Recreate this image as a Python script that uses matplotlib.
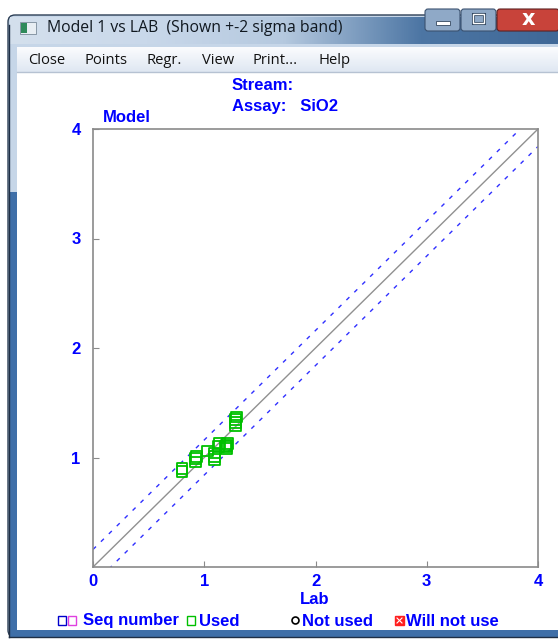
import numpy as np
import matplotlib.pyplot as plt
from matplotlib.patches import Rectangle, FancyBboxPatch
from matplotlib.colors import LinearSegmentedColormap

# Lab vs model assay values (SiO2)
lab = [0.80, 0.80, 0.92, 0.92, 0.93, 1.03, 1.09, 1.09, 1.09, 1.13, 1.14,
       1.19, 1.20, 1.20, 1.21, 1.28, 1.28, 1.28, 1.29]
model = [0.87, 0.90, 0.96, 0.99, 1.01, 1.06, 0.98, 1.01, 1.04, 1.10, 1.13,
         1.10, 1.08, 1.11, 1.13, 1.29, 1.32, 1.35, 1.37]
band = 0.16          # +-2 sigma
ticks = [0, 1, 2, 3, 4]
menu_items = ['Close', 'Points', 'Regr.', 'View', 'Print...', 'Help']
menu_x = [28, 85, 147, 202, 253, 318]

W, H = 558, 640
BLUE = '#0000ff'
FS = 12
fig = plt.figure(figsize=(W / 100, H / 100), dpi=100)

# --- window frame, drawn in pixel coords ---
bg = fig.add_axes([0, 0, 1, 1])
bg.set_xlim(0, W)
bg.set_ylim(H, 0)
bg.axis('off')

frame_cmap = LinearSegmentedColormap.from_list(
    'frame', ['#d4e0ed', '#c9d8ea', '#b5c9df', '#4d76a4', '#3f6897'])
grad = np.tile(np.linspace(0, 1, 256), (2, 1))
bg.add_patch(FancyBboxPatch((8, 15), W, H - 18, boxstyle='round,pad=0,rounding_size=7',
                            fc='#c6d6e8', ec='#2c3e55', lw=1.0, zorder=0))
bg.imshow(grad, cmap=frame_cmap, extent=(10, W, 44, 17), aspect='auto', zorder=1)
# glassy lower part of the side border
bg.add_patch(Rectangle((9, 192), 8, 440, fc='#3f6fa8', ec='none', zorder=1))
bg.add_patch(Rectangle((9, 630), W, 8, fc='#3f6fa8', ec='none', zorder=1))
bg.plot([9, 9], [25, 637], color='#1f2f45', lw=1, zorder=2)
bg.plot([9, W], [637, 637], color='#1f2f45', lw=1, zorder=2)

# caption buttons
bg.add_patch(FancyBboxPatch((425, 9), 35, 22, boxstyle='round,pad=0,rounding_size=3',
                            fc='#8fa9c7', ec='#3b5270', lw=0.8, zorder=3))
bg.add_patch(FancyBboxPatch((461, 9), 35, 22, boxstyle='round,pad=0,rounding_size=3',
                            fc='#8fa9c7', ec='#3b5270', lw=0.8, zorder=3))
bg.add_patch(FancyBboxPatch((497, 9), 62, 22, boxstyle='round,pad=0,rounding_size=3',
                            fc='#c8433a', ec='#5e2020', lw=0.8, zorder=3))
bg.add_patch(Rectangle((436, 21), 14, 4, fc='white', ec='#33475f', lw=0.6, zorder=4))
bg.add_patch(Rectangle((473, 14), 11, 9, fc='none', ec='#33475f', lw=2.2, zorder=4))
bg.add_patch(Rectangle((473, 14), 11, 9, fc='none', ec='white', lw=1.0, zorder=4))
bg.text(528, 19, 'x', fontsize=15, fontweight='bold', color='white',
        ha='center', va='center', family='DejaVu Sans', zorder=5)

# title bar icon and caption
bg.add_patch(Rectangle((20, 22), 16, 12, fc='#e8eef3', ec='#7a8a9a', lw=0.6, zorder=3))
bg.add_patch(Rectangle((21, 23), 6, 10, fc='#2f8a5a', ec='none', zorder=4))
bg.text(47, 28, 'Model 1 vs LAB  (Shown +-2 sigma band)', fontsize=11.3,
        family='Open Sans', color='#101820', va='center', zorder=3)

# menu bar
menu_cmap = LinearSegmentedColormap.from_list('menu', ['#fbfcfe', '#dfe7f2'])
bg.imshow(np.linspace(0, 1, 64).reshape(-1, 1), cmap=menu_cmap,
          extent=(17, W, 72, 47), aspect='auto', zorder=1)
bg.plot([17, W], [72, 72], color='#b6c2d2', lw=1, zorder=2)
for label, x in zip(menu_items, menu_x):
    bg.text(x, 61, label, fontsize=10.6, family='Open Sans', color='#111111',
            va='center', zorder=3)

# client area
bg.add_patch(Rectangle((17, 73), W, 557, fc='white', ec='none', zorder=1))

# header text
txt = dict(fontsize=FS, fontweight='bold', color=BLUE, family='Liberation Sans',
           va='center', zorder=3)
bg.text(232, 85, 'Stream:', **txt)
bg.text(232, 106, 'Assay:   SiO2', **txt)
bg.text(103, 117, 'Model', **txt)
bg.text(315, 600, 'Lab', ha='center', **txt)

# legend row
bg.add_patch(Rectangle((58, 616), 8, 9, fc='none', ec='#0000cc', lw=1, zorder=3))
bg.add_patch(Rectangle((68, 616), 8, 9, fc='none', ec='#e040e0', lw=1, zorder=3))
bg.text(83, 621, 'Seq number', **txt)
bg.add_patch(Rectangle((187, 616), 8, 9, fc='none', ec='#00c000', lw=1, zorder=3))
bg.text(199, 621, 'Used', **txt)
bg.plot([295], [620], marker='o', ms=5, mfc='white', mec='black', mew=1.2, zorder=3)
bg.text(302, 621, 'Not used', **txt)
bg.add_patch(Rectangle((395, 616), 9, 9, fc='#ff2020', ec='#ff2020', lw=1, zorder=3))
bg.plot([397, 402], [618, 623], color='white', lw=0.8, zorder=4)
bg.plot([397, 402], [623, 618], color='white', lw=0.8, zorder=4)
bg.text(406, 621, 'Will not use', **txt)

# --- scatter chart ---
ax = fig.add_axes([93 / W, 1 - 567 / H, 445 / W, 438 / H])
ax.set_xlim(0, 4)
ax.set_ylim(0, 4)
for s in ax.spines.values():
    s.set_color('#8a8a8a')
    s.set_linewidth(1.2)

xx = np.array([0, 4])
ax.plot(xx, xx, color='#909090', lw=1)
ax.plot(xx, xx + band, color='#3030ff', lw=1, ls=(0, (3, 5)))
ax.plot(xx, xx - band, color='#3030ff', lw=1, ls=(0, (3, 5)))
ax.scatter(lab, model, marker='s', s=60, facecolors='none',
           edgecolors='#00c000', linewidths=1.3, zorder=3)

ax.set_xticks(ticks)
ax.set_xticklabels([str(t) for t in ticks])
ax.set_yticks(ticks[1:])
ax.set_yticklabels([str(t) for t in ticks[1:]])
ax.tick_params(direction='in', length=4, color='#8a8a8a', labelcolor=BLUE,
               labelsize=FS)
ax.tick_params(axis='x', pad=5)
ax.tick_params(axis='y', pad=9)
for lbl in ax.get_xticklabels() + ax.get_yticklabels():
    lbl.set_fontweight('bold')
    lbl.set_family('Liberation Sans')

fig.savefig('out.png', dpi=100)
